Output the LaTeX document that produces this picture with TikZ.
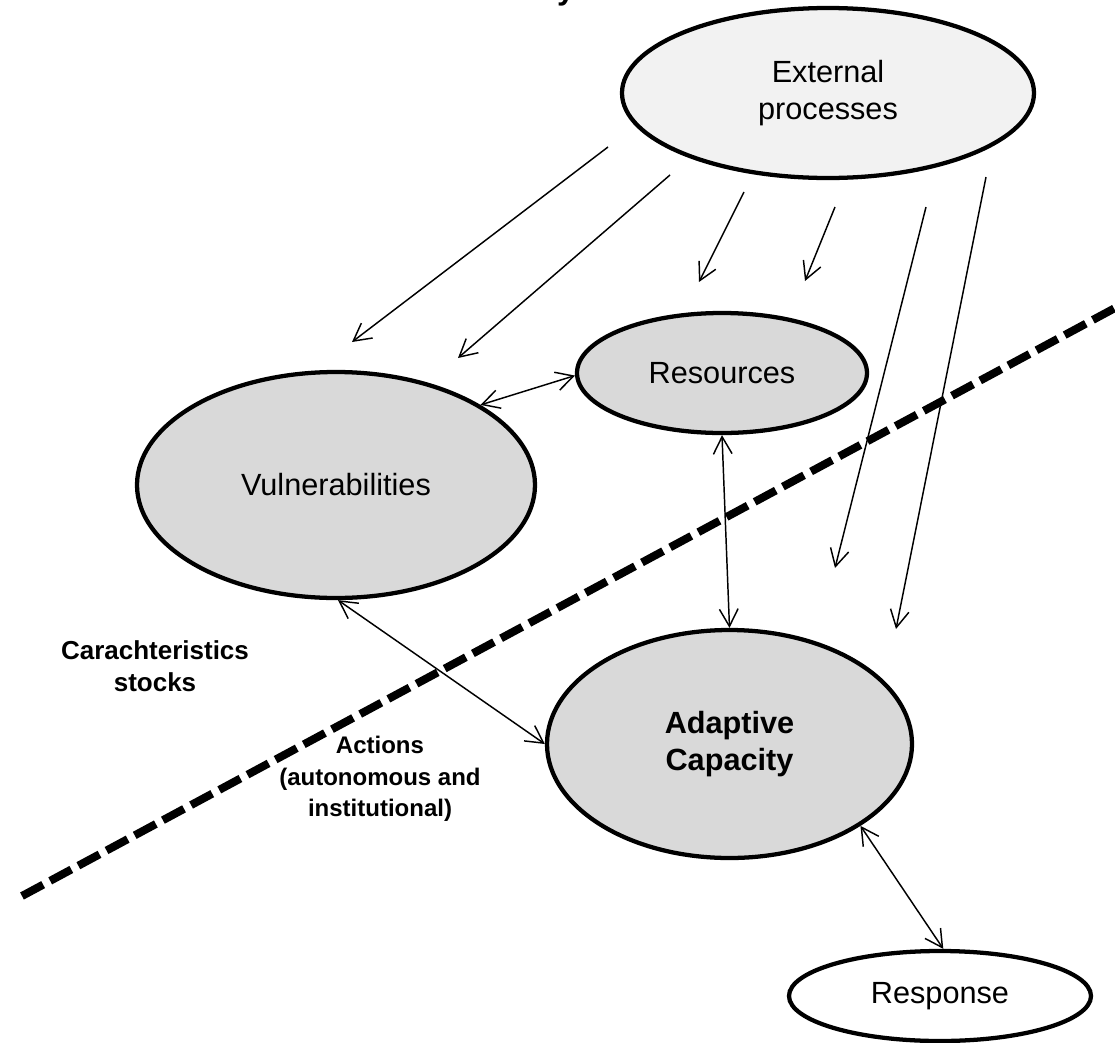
\documentclass[tikz,border=0pt]{standalone}
\usepackage{fontspec}
\setmainfont{Liberation Sans}
\usetikzlibrary{shapes.geometric,arrows.meta}
\definecolor{extfill}{HTML}{F2F2F2}
\definecolor{stockfill}{HTML}{D9D9D9}
\begin{document}
\begin{tikzpicture}[x=0.75pt,y=-0.75pt,
  ell/.style={ellipse, draw=black, line width=3.2pt, inner sep=0pt, align=center,
              font=\fontsize{23}{28}\selectfont},
  arr/.style={line width=1.1pt, -{Straight Barb[length=13pt,width=14pt]}},
  darr/.style={line width=1.1pt, {Straight Barb[length=13pt,width=14pt]}-{Straight Barb[length=13pt,width=14pt]}},
  lbl/.style={align=center, font=\bfseries\fontsize{19.5}{24}\selectfont, inner sep=0pt},
  divide/.style={line width=6pt, dash pattern=on 18pt off 6pt}]
\fill[white] (0,0) rectangle (1115,1043);
\useasboundingbox (0,0) rectangle (1115,1043);

% cut-off title fragment
\node[font=\bfseries\fontsize{24}{28}\selectfont, anchor=base, inner sep=0pt] (ttl) at (566,-1) {y};

% dividing line
\coordinate (dl1) at (22,896);
\coordinate (dl2) at (1115,308);
\draw[divide] (dl1) -- (dl2);

% ellipses
\node[ell, fill=extfill, minimum width=412*0.75pt, minimum height=170*0.75pt] (ext) at (828,93) {External\\processes};
\node[ell, fill=stockfill, minimum width=398*0.75pt, minimum height=226*0.75pt] (vul) at (336,485) {Vulnerabilities};
\node[ell, fill=stockfill, minimum width=290*0.75pt, minimum height=120*0.75pt] (res) at (722,373) {Resources};
\node[ell, fill=stockfill, minimum width=365*0.75pt, minimum height=228*0.75pt, font=\bfseries\fontsize{23}{28}\selectfont] (ada) at (729.5,744) {Adaptive\\Capacity};
\node[ell, fill=white, minimum width=302*0.75pt, minimum height=90*0.75pt] (resp) at (940,996) {Response};

% labels
\node[lbl] (cs) at (155,666) {Carachteristics\\stocks};
\node[lbl, font=\bfseries\fontsize{18}{23.5}\selectfont] (act) at (380,779) {Actions\\(autonomous and\\institutional)};

% external influences
\coordinate (a1s) at (608,147); \coordinate (a1e) at (352,342);
\coordinate (a2s) at (670,175); \coordinate (a2e) at (458,358);
\coordinate (a3s) at (744,192); \coordinate (a3e) at (699,282);
\coordinate (a4s) at (835,207); \coordinate (a4e) at (805,281);
\coordinate (a5s) at (926,207); \coordinate (a5e) at (835,568);
\coordinate (a6s) at (986,177); \coordinate (a6e) at (896,629);
\draw[arr] (a1s) -- (a1e);
\draw[arr] (a2s) -- (a2e);
\draw[arr] (a3s) -- (a3e);
\draw[arr] (a4s) -- (a4e);
\draw[arr] (a5s) -- (a5e);
\draw[arr] (a6s) -- (a6e);

% mutual links
\draw[darr] (vul.29) -- (res.181);
\draw[darr] (res.270) -- (ada.90);
\draw[darr] (vul.271) -- (ada.180);
\draw[darr] (ada.-32) -- (resp.86);
\end{tikzpicture}
\end{document}
